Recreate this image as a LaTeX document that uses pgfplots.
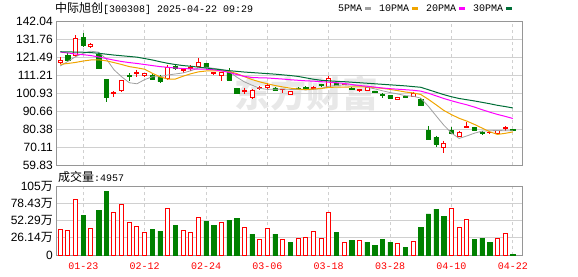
\documentclass[border=0pt]{standalone}
\usepackage{pgfplots}
\pgfplotsset{compat=1.18}
\usepackage{pgfplotstable}
\usepackage{fontspec}
\setmainfont{Liberation Sans}
\newfontfamily\cjk{Noto Sans CJK SC}
\newfontfamily\mono{Liberation Mono}
\newcommand\wan{{\cjk 万}}
\definecolor{kred}{RGB}{255,0,0}
\definecolor{kgreen}{RGB}{0,128,0}
\definecolor{ma5}{RGB}{160,160,160}
\definecolor{ma10}{RGB}{240,165,0}
\definecolor{ma20}{RGB}{255,0,255}
\definecolor{ma30}{RGB}{0,110,55}
\definecolor{gridc}{RGB}{208,208,208}
\definecolor{framec}{RGB}{150,150,150}

% red (up) candles: index, body low, body height, high, low
\pgfplotstableread{
i lo h H L
0 118.5 1.0 121.5 117.5
2 122.2 10.0 134.0 121.7
4 127.6 1.1 129.6 126.8
7 100.5 0.7 102.0 98.5
8 102.2 5.6 108.5 101.5
10 111.8 0.7 114.1 110.0
11 110.8 1.2 112.5 110.3
14 109.1 6.3 116.9 108.5
16 113.9 0.4 114.5 112.3
17 114.7 0.6 116.9 113.7
18 116.3 2.2 120.7 116.0
20 112.0 0.4 112.6 111.0
21 111.0 1.6 113.0 108.0
24 101.7 0.6 104.0 100.4
25 98.2 4.4 103.2 97.5
26 103.3 0.6 104.9 102.6
27 104.2 1.3 106.8 103.3
29 102.7 0.4 103.3 101.2
30 100.2 1.5 102.0 99.8
33 103.3 0.7 104.8 102.5
35 104.0 5.3 110.7 103.6
37 105.6 0.3 106.2 105.3
39 102.6 0.4 103.4 101.6
40 102.6 1.6 104.5 102.3
44 97.5 1.1 98.9 97.2
46 98.8 1.6 101.7 98.6
50 69.9 2.3 73.7 66.5
52 76.0 2.5 79.4 75.8
53 81.2 0.5 84.2 81.0
56 78.1 0.4 78.8 77.3
57 77.9 1.5 79.8 77.6
58 80.5 0.5 82.1 79.2
}\redtab

% green (down) candles
\pgfplotstableread{
i lo h H L
1 119.8 2.8 124.0 118.8
3 127.9 4.8 135.0 127.4
5 114.8 8.4 124.5 114.5
6 98.3 10.5 109.0 96.0
9 110.3 0.7 112.2 108.0
12 108.8 2.4 111.5 108.5
13 107.4 2.5 111.2 106.5
15 115.3 0.7 117.2 113.8
19 115.6 2.3 118.2 115.3
22 108.4 4.6 115.0 108.0
23 100.9 2.5 103.8 100.5
28 102.3 1.6 104.2 102.0
31 103.5 0.3 104.2 103.2
32 102.9 1.1 104.7 102.6
34 105.3 0.4 106.2 104.4
36 105.1 1.4 106.8 104.9
38 103.3 0.4 104.5 102.5
41 101.1 1.0 102.3 100.9
42 99.8 0.5 101.0 98.2
43 98.1 1.3 99.7 97.9
45 98.7 0.2 99.3 98.4
47 94.1 3.2 97.8 93.6
48 74.7 5.1 82.1 74.5
49 71.8 3.8 76.6 70.3
51 77.9 1.9 81.4 77.5
54 79.9 1.2 81.6 79.2
55 78.2 0.4 79.1 76.8
59 79.8 0.3 80.3 79.6
}\greentab

% moving averages
\pgfplotstableread{
i m5 m10 m20 m30
0 116.4 117.3 124.3 124.5
1 119.0 117.8 123.8 124.4
2 121.7 118.4 123.2 124.3
3 123.6 119.2 122.8 124.2
4 124.8 119.8 122.3 124.0
5 124.2 119.9 121.5 123.6
6 120.4 119.3 120.6 123.1
7 114.2 118.3 119.7 122.6
8 110.2 117.2 118.9 122.2
9 106.8 116.0 118.3 121.8
10 106.2 115.3 117.8 121.4
11 108.6 114.5 117.2 120.6
12 110.2 112.2 116.6 119.8
13 110.2 110.2 116.0 118.8
14 111.2 108.9 115.6 117.9
15 111.8 108.9 115.2 117.2
16 112.4 110.5 114.9 116.6
17 113.6 111.9 114.7 116.2
18 115.2 113.0 114.6 115.7
19 115.6 113.5 114.5 115.2
20 115.0 113.5 114.2 114.7
21 114.4 113.6 113.6 114.2
22 113.3 113.3 112.7 113.7
23 110.0 112.0 111.5 113.3
24 107.3 110.3 110.4 112.9
25 105.4 108.6 109.8 112.6
26 103.6 107.3 109.6 112.3
27 103.0 106.2 109.5 112.0
28 103.1 105.2 109.2 111.7
29 103.2 104.4 108.9 111.3
30 103.0 103.7 108.5 110.9
31 102.9 103.2 108.2 110.4
32 102.7 102.9 107.9 109.6
33 103.0 103.2 107.7 108.8
34 103.5 103.5 107.4 108.2
35 104.8 104.1 107.1 107.9
36 105.2 104.3 106.8 107.6
37 105.6 104.3 106.4 107.4
38 105.5 104.4 105.8 107.1
39 105.0 104.4 105.2 106.8
40 104.2 104.5 104.8 106.5
41 103.3 104.0 104.3 106.2
42 102.2 103.6 103.8 105.9
43 101.2 103.0 103.4 105.6
44 100.4 102.3 103.1 105.3
45 99.4 101.5 102.8 105.0
46 99.1 101.0 102.5 104.6
47 98.0 100.1 102.0 104.2
48 93.3 97.3 100.8 102.8
49 87.9 94.2 99.3 101.4
50 82.6 91.0 97.8 100.0
51 78.1 88.6 96.5 98.8
52 75.0 86.5 95.3 97.8
53 76.4 84.9 94.2 97.1
54 78.0 83.0 92.9 96.4
55 79.2 80.9 91.4 95.6
56 79.4 78.8 90.0 94.8
57 79.5 77.3 88.7 93.9
58 79.4 77.9 87.6 93.2
59 79.4 78.7 86.4 92.4
}\matab

% volume (10k shares)
\pgfplotstableread{
i v
0 38.7
1 37.2
2 84.0
4 40.2
7 64.4
8 76.4
9 49.3
10 43.2
11 34.2
14 70.4
16 37.2
17 34.2
18 56.8
21 49.3
24 41.7
26 23.6
27 40.2
29 23.6
31 25.1
32 26.6
33 35.7
34 25.1
35 64.4
37 19.1
39 22.1
44 17.6
46 20.6
51 70.4
52 41.7
53 53.8
57 25.1
58 33.2
}\volred
\pgfplotstableread{
i v
3 60.3
5 67.9
6 96.5
12 39.2
13 36.2
15 45.2
19 51.3
20 45.2
22 52.8
23 55.8
25 31.7
28 31.7
30 19.6
36 34.7
38 22.6
40 19.6
41 15.1
42 24.1
43 19.6
45 12.1
47 42.2
48 62.3
49 69.4
50 58.8
54 24.1
55 25.6
56 18.6
59 1.5
}\volgreen

\pgfplotsset{
  kbase/.style={at={(56pt,111pt)}, anchor=south west, scale only axis,
    width=466pt, height=144pt, xmin=-0.56, xmax=60.2, ymin=59.83, ymax=142.04},
}

\begin{document}
\begin{tikzpicture}
\useasboundingbox (0pt,0pt) rectangle (578pt,276pt);

% watermark
\node[text=black!9, font=\cjk\bfseries\fontsize{36}{36}\selectfont, inner sep=0pt] at (306pt,182pt) {东方财富};

% title and legend
\node[anchor=west, inner sep=0pt] at (55pt,267.5pt) {{\cjk\fontsize{12}{12}\selectfont 中际旭创}{\mono\fontsize{10}{12}\selectfont [300308] 2025-04-22 09:29}};
\node[anchor=west, inner sep=0pt, font=\mono\fontsize{10}{12}\selectfont] at (338pt,267.5pt) {5PMA\hspace{3pt}\textcolor{ma5}{\rule[1.6pt]{6pt}{3.5pt}}\hspace{8pt}10PMA\hspace{3pt}\textcolor{ma10}{\rule[1.6pt]{6pt}{3.5pt}}\hspace{8pt}20PMA\hspace{3pt}\textcolor{ma20}{\rule[1.6pt]{6pt}{3.5pt}}\hspace{8pt}30PMA\hspace{3pt}\textcolor{ma30}{\rule[1.6pt]{6pt}{3.5pt}}};
\node[anchor=west, inner sep=0pt] at (58pt,99.3pt) {{\cjk\fontsize{12}{12}\selectfont 成交量}{\mono\fontsize{10}{12}\selectfont :4957}};

% main price axis with grid and wicks
\begin{axis}[kbase,
  axis line style={framec, line width=0.8pt},
  xtick={3,11,19,27,35,43,51,59}, xticklabels={},
  ytick={59.83,70.11,80.38,90.66,100.93,111.21,121.49,131.76,142.04},
  yticklabels={59.83,70.11,80.38,90.66,100.93,111.21,121.49,131.76,142.04},
  major tick length=0pt,
  xmajorgrids, ymajorgrids,
  x grid style={gridc, dash pattern=on 3pt off 3pt, line width=0.8pt},
  y grid style={gridc, line width=0.8pt},
  yticklabel style={font=\fontsize{12}{12}\selectfont, inner sep=0pt, anchor=east, xshift=-3pt},
]
\addplot[draw=none, mark=none, forget plot, error bars/.cd, y dir=minus, y explicit, error mark=none,
  error bar style={draw=kred, solid, line width=1pt}]
  table[x=i, y=H, y error expr=\thisrow{H}-\thisrow{L}] {\redtab};
\addplot[draw=none, mark=none, forget plot, error bars/.cd, y dir=minus, y explicit, error mark=none,
  error bar style={draw=kgreen, solid, line width=1pt}]
  table[x=i, y=H, y error expr=\thisrow{H}-\thisrow{L}] {\greentab};
\end{axis}

% red bodies
\begin{axis}[kbase, hide axis, ybar stacked, bar width=4pt]
\addplot[draw=none, fill=none] table[x=i, y=lo] {\redtab};
\addplot[draw=kred, fill=white, line width=1pt] table[x=i, y=h] {\redtab};
\end{axis}

% green bodies
\begin{axis}[kbase, hide axis, ybar stacked, bar width=4.4pt]
\addplot[draw=none, fill=none] table[x=i, y=lo] {\greentab};
\addplot[draw=kgreen, fill=kgreen, line width=0.6pt] table[x=i, y=h] {\greentab};
\end{axis}

% moving averages
\begin{axis}[kbase, hide axis]
\addplot[ma5, line width=0.8pt, mark=none] table[x=i, y=m5] {\matab};
\addplot[ma10, line width=1pt, mark=none] table[x=i, y=m10] {\matab};
\addplot[ma20, line width=1pt, mark=none] table[x=i, y=m20] {\matab};
\addplot[ma30, line width=1pt, mark=none] table[x=i, y=m30] {\matab};
\end{axis}

% volume axis
\begin{axis}[at={(56pt,21pt)}, anchor=south west, scale only axis,
  width=466pt, height=69pt, xmin=-0.56, xmax=60.2, ymin=0, ymax=104.57,
  axis line style={framec, line width=0.8pt},
  ybar, bar width=4pt,
  xtick={3,11,19,27,35,43,51,59},
  xticklabels={01-23,02-12,02-24,03-06,03-18,03-28,04-10,04-22},
  ytick={0,26.14,52.29,78.43,104.57},
  yticklabels={0,26.14\wan,52.29\wan,78.43\wan,105\wan},
  major tick length=0pt,
  xmajorgrids, ymajorgrids,
  x grid style={gridc, dash pattern=on 3pt off 3pt, line width=0.8pt},
  y grid style={gridc, line width=0.8pt},
  yticklabel style={font=\fontsize{12}{12}\selectfont, inner sep=0pt, anchor=east, xshift=-3pt},
  xticklabel style={text=kred, font=\mono\fontsize{10}{10}\selectfont, inner sep=0pt, anchor=center, yshift=-11.7pt},
]
\addplot[draw=kred, fill=white, line width=1pt, bar shift=0pt] table[x=i, y=v] {\volred};
\addplot[draw=kgreen, fill=kgreen, line width=0.6pt, bar shift=0pt, bar width=4.4pt] table[x=i, y=v] {\volgreen};
\end{axis}
\end{tikzpicture}
\end{document}
